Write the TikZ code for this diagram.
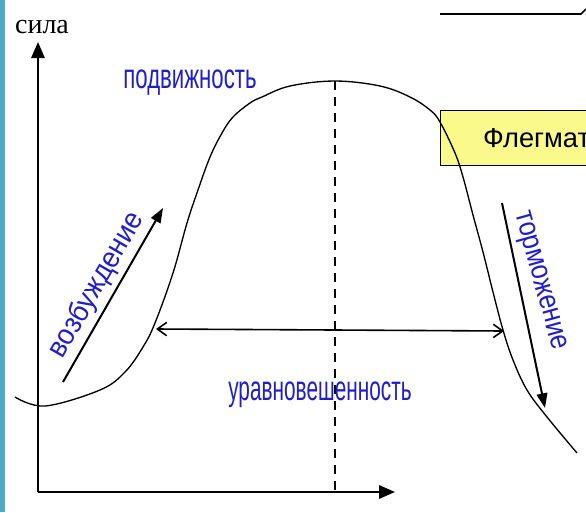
\documentclass[tikz,border=0pt]{standalone}
\usepackage{fontspec}
\setmainfont{Liberation Serif}
\newfontfamily\arialf{Liberation Sans}
\usetikzlibrary{arrows.meta}
\definecolor{stripe}{RGB}{75,168,198}
\definecolor{labelblue}{RGB}{30,30,205}
\definecolor{boxyellow}{RGB}{250,250,140}
\newcommand{\narrow}[2]{\scalebox{#1}[1]{#2}}

\begin{document}
\begin{tikzpicture}[x=0.75pt,y=-0.75pt,
    axis/.style={line width=1.5pt,-{Triangle[length=12pt,width=10pt]}},
    trend/.style={line width=1.5pt,-{Triangle[length=11pt,width=8pt]}},
    span/.style={line width=1.2pt,-{Straight Barb[length=7pt,width=10pt]}},
    bluelabel/.style={text=labelblue,inner sep=0pt,font=\arialf\fontsize{26}{28}\selectfont},
    sidelabel/.style={text=labelblue,inner sep=0pt,font=\arialf\fontsize{22}{24}\selectfont}]
    \useasboundingbox (0,0) rectangle (586,512);
    % left stripe
    \fill[stripe] (0,0) rectangle (5,512);

    % type box (under the curve)
    \begin{scope}
        \clip (0,0) rectangle (586,512);
        \node (phleg) [draw,line width=0.8pt,fill=boxyellow,anchor=north west,
            minimum height=41pt,inner xsep=32pt,
            font=\arialf\fontsize{20.5}{22}\selectfont] at (440,110) {Флегматик};
    \end{scope}

    % axes
    \coordinate (O) at (38,492);
    \coordinate (ytop) at (38,42);
    \coordinate (xend) at (395,492);
    \draw[axis] (O) -- (ytop);
    \draw[axis] (O) -- (xend);
    \node (sila) at (42,27) {\fontsize{21}{23}\selectfont сила};

    % top right line
    \draw[line width=1.2pt] (440,14) -- (581,14) -- (586,9);

    % curve
    \draw[line width=1pt] plot[smooth,tension=0.6] coordinates {
        (15,397) (45,406) (100,390) (125,372) (143,347) (155,323) (173,273)
        (187,223) (198,190) (210,157) (222,133) (233,117) (250,103) (262,97)
        (290,86) (335,81) (380,86) (410,97) (430,110) (440,122) (455,153)
        (463,177) (473,215) (483,252) (493,292) (503,330) (513,360) (527,390)
        (547,417) (577,453)};

    % middle line and spans
    \coordinate (peak) at (335,81);
    \draw[line width=1.2pt,dash pattern=on 7pt off 5pt] (peak) -- (peak |- O);
    \coordinate (mid) at (335,330);
    \coordinate (lt) at (156,329);
    \coordinate (rt) at (504,331);
    \draw[span] (mid) -- (lt);
    \draw[span] (mid) -- (rt);

    % rising and falling
    \coordinate (ea) at (63,382);
    \coordinate (eb) at (163,208);
    \draw[trend] (ea) -- (eb);
    \coordinate (ia) at (502,203);
    \coordinate (ib) at (545,408);
    \draw[trend] (ia) -- (ib);

    % labels
    \node (mob) [bluelabel,anchor=base] at (190,88) {\narrow{0.64}{подвижность}};
    \node (bal) [bluelabel,anchor=base] at (320,400) {\narrow{0.6}{уравновешенность}};
    \node (exc) [sidelabel,rotate=60] at (97,285) {\narrow{0.92}{возбуждение}};
    \node (inh) [sidelabel,rotate=-74.5] at (539,281) {\narrow{0.86}{торможение}};
\end{tikzpicture}
\end{document}
